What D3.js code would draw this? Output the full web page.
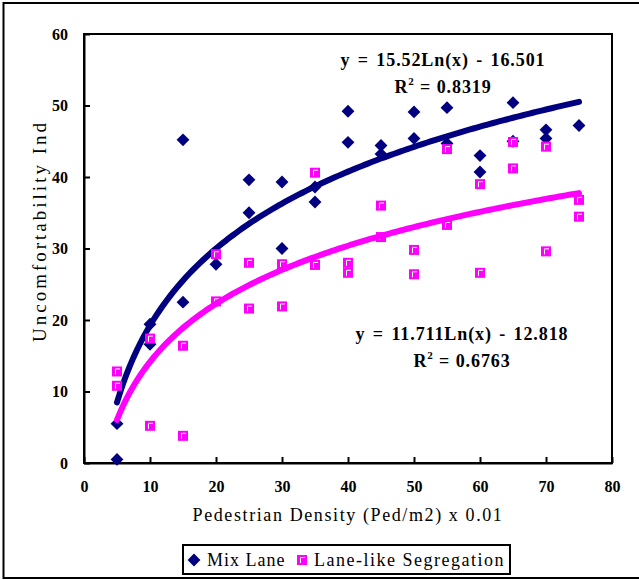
<!DOCTYPE html>
<html>
<head>
<meta charset="utf-8">
<script src="https://cdn.jsdelivr.net/npm/d3@7"></script>
<style>
  body { margin: 0; background: #fff; }
  svg { display: block; }
  text { font-family: "Liberation Serif", "DejaVu Serif", serif; }
</style>
</head>
<body>
<svg id="chart" width="639" height="580"></svg>
<script>
// ---- data ----
const mixX = [5, 5, 10, 10, 15, 15, 20, 25, 25, 30, 30, 35, 35, 40, 40, 45, 45, 50, 50, 55, 55, 60, 60, 65, 65, 70, 70, 75];
const mixY = [5.5, 0.5, 16.6, 19.4, 45.2, 22.5, 27.8, 39.6, 35.0, 39.3, 30.0, 38.6, 36.5, 49.2, 44.85, 44.4, 43.2, 49.1, 45.4, 49.7, 44.7, 43.0, 40.7, 50.4, 45.0, 46.6, 45.4, 47.2];
const laneX = [5, 5, 10, 10, 15, 15, 20, 20, 25, 25, 30, 30, 35, 35, 40, 40, 45, 45, 50, 50, 55, 55, 60, 60, 65, 65, 70, 70, 75, 75];
const laneY = [12.8, 10.8, 17.4, 5.2, 16.4, 3.8, 29.2, 22.6, 28.0, 21.6, 27.8, 21.9, 40.6, 27.7, 28.0, 26.6, 36.0, 31.6, 29.8, 26.4, 43.9, 33.3, 39.0, 26.6, 44.9, 41.2, 44.25, 29.6, 36.8, 34.45];
const xTicks = [0, 10, 20, 30, 40, 50, 60, 70, 80];
const yTicks = [0, 10, 20, 30, 40, 50, 60];
const mixFit = { a: 15.52, b: -16.501, label: "y = 15.52Ln(x) - 16.501", r2: "0.8319" };
const laneFit = { a: 11.711, b: -12.818, label: "y = 11.711Ln(x) - 12.818", r2: "0.6763" };
const seriesNames = ["Mix Lane", "Lane-like Segregation"];
const colors = ["#000080", "#FF00FF"];

// ---- layout ----
const svg = d3.select("#chart");
const L = 84, R = 612, T = 34, B = 463;
const x = d3.scaleLinear().domain([0, 80]).range([L, R]);
const y = d3.scaleLinear().domain([0, 60]).range([B, T]);

// outer frame
svg.append("rect").attr("x", 3.5).attr("y", 3).attr("width", 640).attr("height", 575)
  .attr("fill", "none").attr("stroke", "#000").attr("stroke-width", 2);

// plot frame
svg.append("rect").attr("x", L).attr("y", T).attr("width", R - L).attr("height", B - T)
  .attr("fill", "#fff").attr("stroke", "#000").attr("stroke-width", 2);

// axes
const xAxis = svg.append("g").attr("transform", `translate(0,${B})`)
  .call(d3.axisBottom(x).tickValues(xTicks).tickSize(6).tickPadding(12).tickSizeOuter(0));
const yAxis = svg.append("g").attr("transform", `translate(${L},0)`)
  .call(d3.axisLeft(y).tickValues(yTicks).tickSize(6).tickPadding(10).tickSizeOuter(0));
[xAxis, yAxis].forEach(g => {
  g.select(".domain").attr("stroke", "#000").attr("stroke-width", 2);
  g.selectAll(".tick line").attr("stroke", "#000").attr("stroke-width", 2);
  g.selectAll(".tick text").attr("font-size", 16).attr("font-weight", "bold")
    .attr("font-family", "Liberation Serif").attr("fill", "#000");
});
xAxis.selectAll(".tick line").attr("y1", 0).attr("y2", -6);
yAxis.selectAll(".tick line").attr("x1", 0).attr("x2", 6);
xAxis.selectAll(".tick text").attr("dy", "0.71em").attr("y", 18);

// trend lines
function fitLine(fit) {
  const pts = d3.range(5, 75.01, 0.5).map(v => [v, fit.a * Math.log(v) + fit.b]);
  return d3.line().x(d => x(d[0])).y(d => y(d[1]))(pts);
}
const plot = svg.append("g");

// mix lane diamonds
const diamond = d3.symbol().type(d3.symbolDiamond2).size(105);
plot.selectAll(".mix").data(mixX.map((v, i) => [v, mixY[i]])).join("path")
  .attr("transform", d => `translate(${x(d[0])},${y(d[1])})`)
  .attr("d", diamond).attr("fill", colors[0]);

plot.append("path").attr("d", fitLine(mixFit)).attr("fill", "none")
  .attr("stroke", colors[0]).attr("stroke-width", 6).attr("stroke-linecap", "round");

// lane-like squares
function squareMark(g) {
  g.append("rect").attr("x", -5).attr("y", -5).attr("width", 10).attr("height", 10).attr("fill", colors[1]);
  g.append("path").attr("d", "M-1.5,3 V-2.5 H3").attr("fill", "none").attr("stroke", "#fff").attr("stroke-width", 1);
}
plot.selectAll(".lane").data(laneX.map((v, i) => [v, laneY[i]])).join("g")
  .attr("transform", d => `translate(${x(d[0])},${y(d[1])})`)
  .each(function () { squareMark(d3.select(this)); });

plot.append("path").attr("d", fitLine(laneFit)).attr("fill", "none")
  .attr("stroke", colors[1]).attr("stroke-width", 6).attr("stroke-linecap", "round");

// equations
function eq(fit, cx, y1, y2) {
  svg.append("text").attr("x", cx).attr("y", y1).attr("text-anchor", "middle")
    .attr("font-size", 18).attr("font-weight", "bold").attr("letter-spacing", 0.9)
    .attr("word-spacing", 2).text(fit.label);
  const t = svg.append("text").attr("x", cx).attr("y", y2).attr("text-anchor", "middle")
    .attr("font-size", 18).attr("font-weight", "bold").attr("letter-spacing", 0.9);
  t.append("tspan").text("R");
  t.append("tspan").attr("dy", -8).attr("font-size", 11).text("2");
  t.append("tspan").attr("dy", 8).text(" = " + fit.r2);
}
eq(mixFit, 443, 66, 93);
eq(laneFit, 462, 340, 367);

// axis titles
svg.append("text").attr("x", 348).attr("y", 521).attr("text-anchor", "middle")
  .attr("font-size", 18).attr("letter-spacing", 1.6).text("Pedestrian Density (Ped/m2) x 0.01");
svg.append("text").attr("transform", "translate(46,231) rotate(-90)").attr("text-anchor", "middle")
  .attr("font-size", 19).attr("letter-spacing", 3).text("Uncomfortability Ind");

// legend
const lg = svg.append("g");
lg.append("rect").attr("x", 183).attr("y", 545).attr("width", 327).attr("height", 29)
  .attr("fill", "#fff").attr("stroke", "#000").attr("stroke-width", 2);
lg.append("path").attr("transform", "translate(194,560)").attr("d", diamond).attr("fill", colors[0]);
lg.append("text").attr("x", 207).attr("y", 566).attr("font-size", 18).attr("letter-spacing", 1).text(seriesNames[0]);
const lsq = lg.append("g").attr("transform", "translate(302,560)");
squareMark(lsq);
lg.append("text").attr("x", 314).attr("y", 566).attr("font-size", 18).attr("letter-spacing", 1.5).text(seriesNames[1]);
</script>
</body>
</html>
